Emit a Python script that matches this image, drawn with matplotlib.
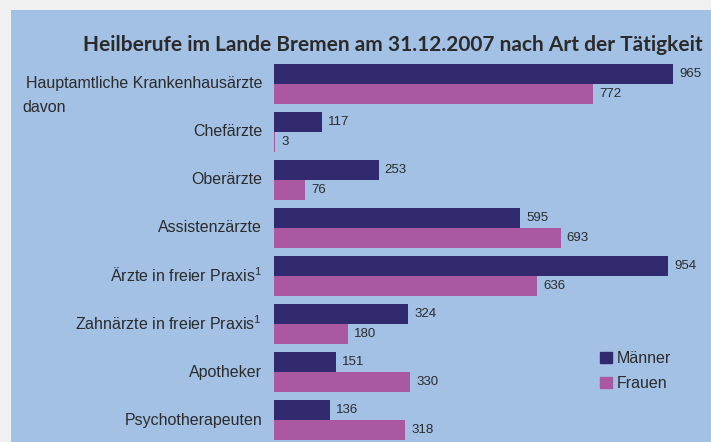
import matplotlib.pyplot as plt
from matplotlib.patches import Rectangle, Patch

plt.rcParams['mathtext.fontset'] = 'custom'
plt.rcParams['mathtext.rm'] = 'Liberation Sans'
plt.rcParams['mathtext.it'] = 'Liberation Sans'

kategorien = ['Hauptamtliche Krankenhausärzte', 'Chefärzte', 'Oberärzte', 'Assistenzärzte',
              'Ärzte in freier Praxis$^{\\mathrm{1}}$', 'Zahnärzte in freier Praxis$^{\\mathrm{1}}$',
              'Apotheker', 'Psychotherapeuten']
maenner = [965, 117, 253, 595, 954, 324, 151, 136]
frauen = [772, 3, 76, 693, 636, 180, 330, 318]

c_m = '#312a6e'
c_f = '#ab58a2'
blau = '#a3c1e5'
txt = '#2b2b2b'

W, H = 711, 442
fig = plt.figure(figsize=(W / 100, H / 100), dpi=100, facecolor='#f0f0f0')
# blaue Flaeche
fig.patches.append(Rectangle((11 / W, 0), 1, 1 - 10 / H, transform=fig.transFigure,
                             facecolor=blau, edgecolor='none', zorder=-5))

# Achse in Pixeln: x ab 274, y von 56 bis 442
ax = fig.add_axes([274 / W, 0, 1 - 274 / W, 1 - 56 / H])
ax.set_facecolor('none')
ax.set_zorder(2)
ax.set_xlim(0, (W - 274) / 0.4135)
ax.set_ylim(7.458, -0.583)
ax.axis('off')

h = 20 / 48
pos = list(range(len(kategorien)))
ax.barh([p - h / 2 for p in pos], maenner, height=h, color=c_m, label='Männer')
ax.barh([p + h / 2 for p in pos], frauen, height=h, color=c_f, label='Frauen')

for p, m, f in zip(pos, maenner, frauen):
    ax.annotate(str(m), (m, p - h / 2), xytext=(6, 0), textcoords='offset pixels',
                va='center', ha='left', fontsize=9.5, color=txt, family='Liberation Sans')
    ax.annotate(str(f), (f, p + h / 2), xytext=(6, 0), textcoords='offset pixels',
                va='center', ha='left', fontsize=9.5, color=txt, family='Liberation Sans')

for p, k in zip(pos, kategorien):
    ax.annotate(k, (0, p), xytext=(-12, 0), textcoords='offset pixels',
                va='center', ha='right', fontsize=11.5, color=txt, family='Liberation Sans',
                annotation_clip=False)
fig.text(22 / W, 1 - 108 / H, 'davon', va='center', ha='left', fontsize=11.5,
         color=txt, family='Liberation Sans')

fig.text(393 / W, 1 - 45 / H, 'Heilberufe im Lande Bremen am 31.12.2007 nach Art der Tätigkeit',
         ha='center', va='center', fontsize=15, fontweight='bold', color=txt, family='Lato')

ax.legend(handles=[Patch(color=c_m, label='Männer'), Patch(color=c_f, label='Frauen')],
          loc='upper left', bbox_to_anchor=(586 / W, 1 - 337 / H), bbox_transform=fig.transFigure,
          frameon=False, handlelength=0.7, handleheight=0.7, handletextpad=0.3,
          labelspacing=0.6, prop={'family': 'Liberation Sans', 'size': 11.5}, labelcolor=txt)

fig.savefig('out.png', dpi=100, facecolor=fig.get_facecolor())
